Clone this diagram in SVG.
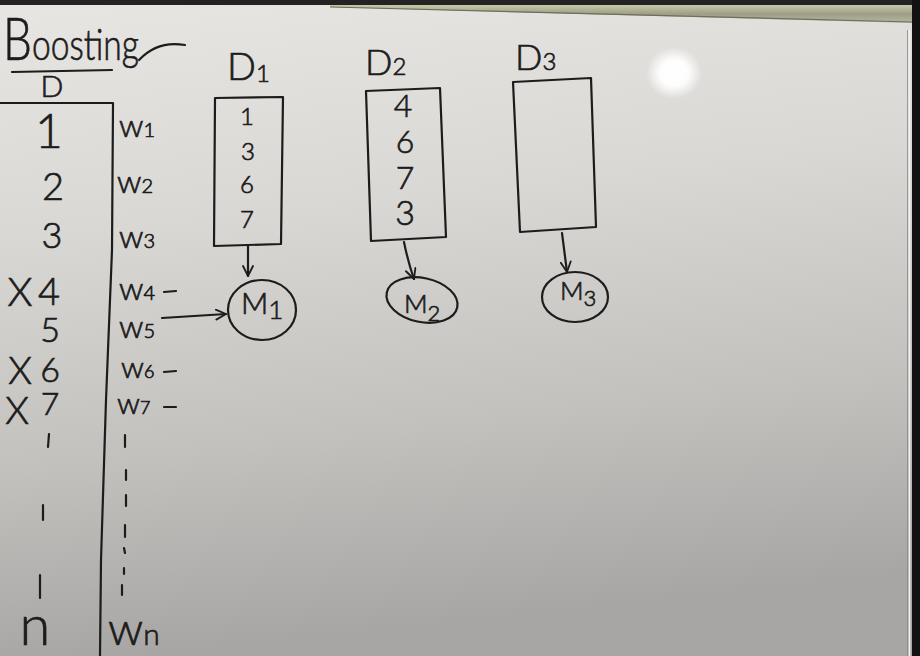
<svg xmlns="http://www.w3.org/2000/svg" width="920" height="656" viewBox="0 0 920 656">
  <defs>
    <linearGradient id="board" x1="0" y1="0" x2="0.15" y2="1">
      <stop offset="0" stop-color="#e7e6e3"/>
      <stop offset="0.35" stop-color="#dad8d5"/>
      <stop offset="0.7" stop-color="#c3c1be"/>
      <stop offset="1" stop-color="#a8a6a4"/>
    </linearGradient>
    <linearGradient id="frame" x1="0" y1="0" x2="0" y2="1">
      <stop offset="0" stop-color="#c8c8a8"/>
      <stop offset="0.5" stop-color="#9e9e86"/>
      <stop offset="1" stop-color="#b8b8a4"/>
    </linearGradient>
    <radialGradient id="glare" cx="0.5" cy="0.5" r="0.5">
      <stop offset="0" stop-color="#ffffff" stop-opacity="1"/>
      <stop offset="0.5" stop-color="#ffffff" stop-opacity="0.95"/>
      <stop offset="1" stop-color="#ffffff" stop-opacity="0"/>
    </radialGradient>
    <marker id="head" viewBox="0 0 12 12" refX="11" refY="6" markerWidth="12" markerHeight="12" markerUnits="userSpaceOnUse" orient="auto">
      <path d="M1,1 L11,6 L1,11" fill="none" stroke="#1c1c1c" stroke-width="1.8" stroke-linecap="round" stroke-linejoin="round"/>
    </marker>
    <style>
      .ink { fill: none; stroke: #1c1c1c; stroke-width: 2.2; stroke-linecap: round; stroke-linejoin: round; }
      .hand { font-family: Lato, "Open Sans", "DejaVu Sans", sans-serif; font-weight: 300; fill: #1c1c1c; stroke: #1c1c1c; stroke-width: 0.7; }
      .mid { text-anchor: middle; }
    </style>
  </defs>

  <!-- whiteboard surface and frame -->
  <rect x="0" y="0" width="920" height="656" fill="url(#board)"/>
  <rect x="0" y="0" width="920" height="5" fill="#232323"/>
  <polygon points="330,5 912,5 912,23 330,7" fill="url(#frame)"/>
  <line x1="330" y1="7" x2="912" y2="22" stroke="#6e6e5c" stroke-width="1.2"/>
  <rect x="912" y="0" width="8" height="656" fill="#121212"/>
  <line x1="909.5" y1="30" x2="909.5" y2="656" stroke="#f2f2f2" stroke-width="1.6"/>
  <line x1="907.5" y1="30" x2="907.5" y2="656" stroke="#8a8886" stroke-width="0.8"/>
  <ellipse cx="674" cy="73" rx="28" ry="26" fill="url(#glare)"/>

  <!-- heading -->
  <g id="title">
    <text class="hand" x="3" y="60" textLength="136" lengthAdjust="spacingAndGlyphs"><tspan font-size="60">B</tspan><tspan font-size="44">oosting</tspan></text>
    <path class="ink" d="M139,60 C152,46 168,42 185,45"/>
    <path class="ink" d="M12,72 L112,70"/>
    <text class="hand mid" x="52" y="97" font-size="30">D</text>
  </g>

  <!-- full dataset column -->
  <g id="dataset">
    <path class="ink" d="M0,103 L113,103 L112,250 L106,400 L101,560 L100,656"/>
    <text class="hand mid" x="49" y="148" font-size="48">1</text>
    <text class="hand mid" x="53" y="200" font-size="38">2</text>
    <text class="hand mid" x="52" y="248" font-size="36">3</text>
    <text class="hand mid" x="20" y="306" font-size="40">X</text>
    <text class="hand mid" x="49" y="305" font-size="38">4</text>
    <text class="hand mid" x="50" y="342" font-size="34">5</text>
    <text class="hand mid" x="20" y="384" font-size="38">X</text>
    <text class="hand mid" x="50" y="382" font-size="34">6</text>
    <text class="hand mid" x="17" y="424" font-size="38">X</text>
    <text class="hand mid" x="50" y="415" font-size="32">7</text>
    <path class="ink" d="M49,434 L48,447 M43,505 L43,520 M40,575 L40,598"/>
    <text class="hand mid" x="35" y="645" font-size="56">n</text>
  </g>

  <!-- sample weights -->
  <g id="weights">
    <text class="hand" x="119" y="137" font-size="32">w<tspan font-size="20">1</tspan></text>
    <text class="hand" x="117" y="193" font-size="32">w<tspan font-size="20">2</tspan></text>
    <text class="hand" x="119" y="248" font-size="32">w<tspan font-size="20">3</tspan></text>
    <text class="hand" x="119" y="300" font-size="32">w<tspan font-size="20">4</tspan></text>
    <text class="hand" x="119" y="338" font-size="32">w<tspan font-size="20">5</tspan></text>
    <text class="hand" x="121" y="378" font-size="30">w<tspan font-size="18">6</tspan></text>
    <text class="hand" x="117" y="414" font-size="30">w<tspan font-size="18">7</tspan></text>
    <path class="ink" d="M164,292 L176,291 M164,372 L176,371 M164,407 L176,407"/>
    <path class="ink" d="M125,435 L125,447 M126,470 L126,480 M126,495 L126,506 M125,525 L125,537 M124,548 L125,553 M124,568 L124,574 M122,585 L122,595"/>
    <text class="hand" x="108" y="645" font-size="46">w<tspan font-size="30">n</tspan></text>
  </g>

  <!-- first sampled dataset -->
  <g id="d1">
    <text class="hand" x="227" y="80" font-size="38">D<tspan font-size="24" dy="2">1</tspan></text>
    <path class="ink" d="M215,98 L283,97 L281,244 L214,246 Z"/>
    <text class="hand mid" x="247" y="125" font-size="24">1</text>
    <text class="hand mid" x="248" y="160" font-size="24">3</text>
    <text class="hand mid" x="247" y="193" font-size="24">6</text>
    <text class="hand mid" x="247" y="228" font-size="24">7</text>
  </g>

  <!-- second sampled dataset -->
  <g id="d2">
    <text class="hand" x="365" y="75" font-size="36">D<tspan font-size="24">2</tspan></text>
    <path class="ink" d="M366,91 L440,88 L446,237 L371,241 Z"/>
    <text class="hand mid" x="403" y="117" font-size="32">4</text>
    <text class="hand mid" x="405" y="153" font-size="32">6</text>
    <text class="hand mid" x="405" y="189" font-size="32">7</text>
    <text class="hand mid" x="405" y="225" font-size="34">3</text>
  </g>

  <!-- third sampled dataset -->
  <g id="d3">
    <text class="hand" x="515" y="70" font-size="36">D<tspan font-size="24">3</tspan></text>
    <path class="ink" d="M513,82 L591,78 L596,227 L520,232 Z"/>
  </g>

  <!-- models -->
  <g id="m1">
    <ellipse class="ink" cx="262" cy="310" rx="34" ry="30"/>
    <text class="hand" x="241" y="314" font-size="30">M<tspan font-size="26" dy="5">1</tspan></text>
  </g>
  <g id="m2">
    <ellipse class="ink" cx="422" cy="300" rx="36" ry="22" transform="rotate(12 422 300)"/>
    <text class="hand" x="404" y="313" font-size="26">M<tspan font-size="22" dy="8">2</tspan></text>
  </g>
  <g id="m3">
    <ellipse class="ink" cx="575" cy="297" rx="33" ry="25"/>
    <text class="hand" x="560" y="300" font-size="26">M<tspan font-size="22" dy="6">3</tspan></text>
  </g>

  <!-- connectors -->
  <g id="connectors">
    <path class="ink" d="M248,246 L248,276" marker-end="url(#head)"/>
    <path class="ink" d="M404,242 Q408,262 414,279" marker-end="url(#head)"/>
    <path class="ink" d="M562,233 L567,272" marker-end="url(#head)"/>
    <path class="ink" d="M162,318 L226,314" marker-end="url(#head)"/>
  </g>
</svg>
